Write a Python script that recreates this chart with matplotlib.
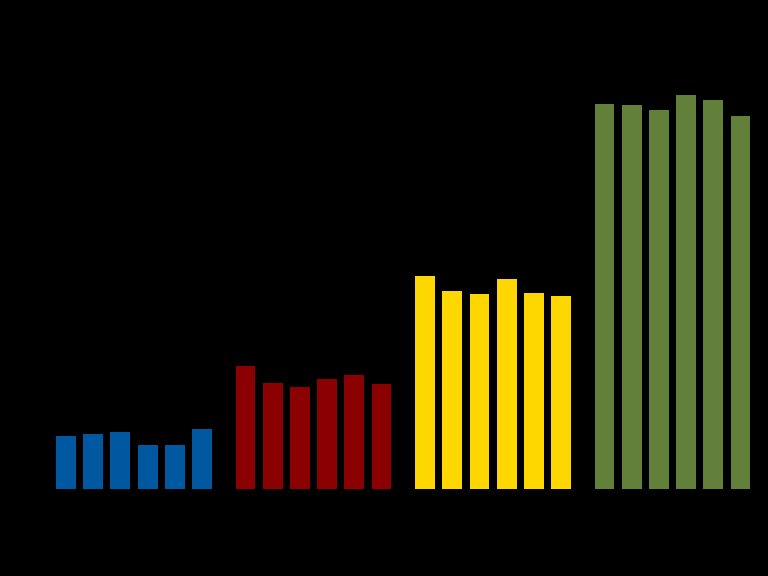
import matplotlib
matplotlib.use("Agg")
import numpy as np
import matplotlib.pyplot as plt

# four groups of six bars
blue_vals = [5.3, 5.5, 5.7, 4.4, 4.4, 6.0]
red_vals = [12.3, 10.6, 10.2, 11.0, 11.4, 10.5]
yellow_vals = [21.3, 19.8, 19.5, 21.0, 19.6, 19.3]
green_vals = [38.5, 38.4, 37.9, 39.4, 38.9, 37.3]

groups = [blue_vals, red_vals, yellow_vals, green_vals]
colors = ["#0059A0", "#8B0000", "#FFD700", "#63803A"]

GROUP_STEP = 6.6
BAR_W = 0.73

fig = plt.figure(figsize=(7.68, 5.76), dpi=100, facecolor="black")
# baseline at y=489 px, top of axes at y=69 px
ax = fig.add_axes([0, 87 / 576, 1, 420 / 576], facecolor="black")

for g, (vals, c) in enumerate(zip(groups, colors)):
    x = g * GROUP_STEP + np.arange(len(vals))
    ax.bar(x, vals, width=BAR_W, color=c)

ax.set_xlim(-66 / 27.2, (768 - 66) / 27.2)
ax.set_ylim(0, 42)
ax.axis("off")

fig.savefig("out.png", dpi=100, facecolor="black")
